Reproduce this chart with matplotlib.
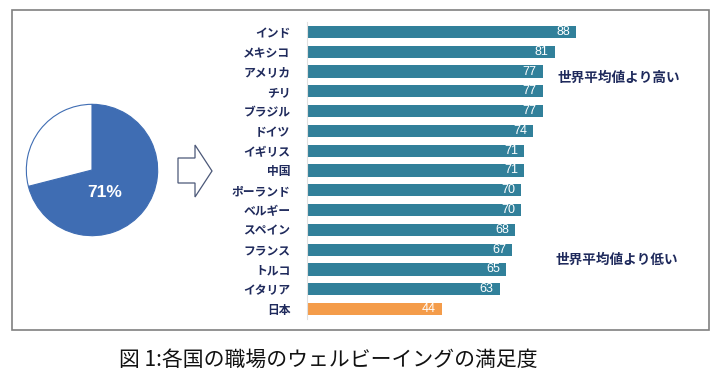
import matplotlib
matplotlib.use("Agg")
import matplotlib.pyplot as plt
from matplotlib.patches import Polygon, Rectangle

plt.rcParams['font.family'] = ['Noto Sans CJK JP', 'DejaVu Sans']

# data
countries = ['インド', 'メキシコ', 'アメリカ', 'チリ', 'ブラジル', 'ドイツ', 'イギリス', '中国',
             'ポーランド', 'ベルギー', 'スペイン', 'フランス', 'トルコ', 'イタリア', '日本']
scores = [88, 81, 77, 77, 77, 74, 71, 71, 70, 70, 68, 67, 65, 63, 44]
pie_values = [71, 29]
pie_label = '71%'
note_high = '世界平均値より高い'
note_low = '世界平均値より低い'
caption = '図 1:各国の職場のウェルビーイングの満足度'

teal = '#31809A'
orange = '#F49C4A'
navy = '#1F2A5C'
pie_blue = '#3F6DB3'

W, H = 722, 388
fig = plt.figure(figsize=(W / 100, H / 100), dpi=100)

# background layer in pixel coords
bg = fig.add_axes([0, 0, 1, 1])
bg.set_xlim(0, W)
bg.set_ylim(H, 0)
bg.axis('off')
bg.add_patch(Rectangle((12, 10), 697, 320, fill=False, edgecolor='#808080', lw=1.2))
arrow = [(178, 158), (195, 158), (195, 145), (212, 171), (195, 197), (195, 183), (178, 183)]
bg.add_patch(Polygon(arrow, closed=True, facecolor='white', edgecolor='#4B5878', lw=0.9))
bg.text(119, 360, caption, fontsize=15, color='#111111', va='center', ha='left')
bg.text(557, 78, note_high, fontsize=9.8, fontweight='bold', color=navy, va='center')
bg.text(556, 260, note_low, fontsize=9.8, fontweight='bold', color=navy, va='center')

# pie
pax = fig.add_axes([25 / W, (H - 170 - 67) / H, 134 / W, 134 / H])
pax.pie(pie_values, colors=[pie_blue, 'white'], startangle=90, counterclock=False,
        wedgeprops=dict(edgecolor=pie_blue, linewidth=0.8))
pax.set_xlim(-1.02, 1.02)
pax.set_ylim(-1.02, 1.02)
pax.text(0.2, -0.34, pie_label, color='white', fontsize=12.5, fontweight='bold',
         ha='center', va='center', family=['Liberation Sans', 'DejaVu Sans'])

# bars
x0 = 307
scale = 3.06
row = 19.8
top_c, bot_c = 32, 309
bottom_px = H - bot_c - row / 2
height_px = (bot_c - top_c) + row
right_px = 700
bax = fig.add_axes([x0 / W, bottom_px / H, (right_px - x0) / W, height_px / H])
bax.set_xlim(0, (right_px - x0) / scale)
bax.set_ylim(len(countries) - 0.5, -0.5)
ypos = list(range(len(countries)))
colors = [teal] * (len(countries) - 1) + [orange]
bax.barh(ypos, scores, height=0.62, color=colors)
for y, v in zip(ypos, scores):
    bax.text(v - 2, y, str(v), color='white', fontsize=9, ha='right', va='center',
             family=['Liberation Sans', 'DejaVu Sans'])
bax.set_yticks(ypos)
bax.set_yticklabels(countries, fontsize=8.5, fontweight='bold', color=navy)
bax.tick_params(axis='y', length=0, pad=12)
bax.set_xticks([])
for s in ['top', 'right', 'bottom']:
    bax.spines[s].set_visible(False)
bax.spines['left'].set_color('#E0E0E0')
bax.patch.set_alpha(0)

fig.savefig('out.png', dpi=100)
